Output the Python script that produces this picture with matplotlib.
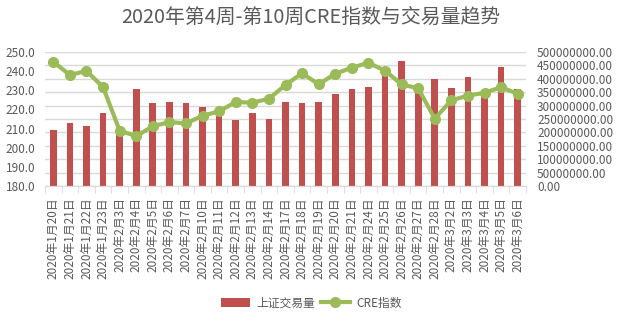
import matplotlib
matplotlib.use("Agg")
import matplotlib.pyplot as plt
from matplotlib.ticker import FormatStrFormatter, FixedLocator, MultipleLocator
from matplotlib.lines import Line2D
from matplotlib.patches import Patch
import numpy as np

plt.rcParams['font.family'] = ['Noto Sans CJK SC', 'DejaVu Sans']

dates = ["2020年1月20日", "2020年1月21日", "2020年1月22日", "2020年1月23日",
         "2020年2月3日", "2020年2月4日", "2020年2月5日", "2020年2月6日", "2020年2月7日",
         "2020年2月10日", "2020年2月11日", "2020年2月12日", "2020年2月13日", "2020年2月14日",
         "2020年2月17日", "2020年2月18日", "2020年2月19日", "2020年2月20日", "2020年2月21日",
         "2020年2月24日", "2020年2月25日", "2020年2月26日", "2020年2月27日", "2020年2月28日",
         "2020年3月2日", "2020年3月3日", "2020年3月4日", "2020年3月5日", "2020年3月6日"]

volume = [209e6, 235e6, 224e6, 272e6, 215e6, 362e6, 310e6, 313e6, 310e6, 295e6,
          275e6, 246e6, 272e6, 250e6, 313e6, 310e6, 313e6, 343e6, 362e6, 369e6,
          425e6, 466e6, 348e6, 399e6, 366e6, 407e6, 346e6, 444e6, 362e6]

cre = [244.9, 238.0, 240.1, 231.7, 208.9, 206.1, 211.2, 213.4, 212.7, 216.7,
       219.0, 223.9, 223.5, 225.6, 232.8, 238.9, 233.1, 238.7, 241.8, 244.4,
       240.2, 233.1, 231.0, 215.2, 224.8, 227.2, 228.7, 231.6, 228.2]

title = "2020年第4周-第10周CRE指数与交易量趋势"
bar_label = "上证交易量"
line_label = "CRE指数"

bar_color = '#c0504d'
line_color = '#9bbb59'
text_color = '#595959'
grid_color = '#d9d9d9'

fig = plt.figure(figsize=(6.23, 3.24), dpi=100)
ax = fig.add_axes([45/623, 1-186/324, (526-45)/623, (186-52)/324])
x = np.arange(len(dates))

ax.bar(x, volume, width=0.4, color=bar_color, zorder=2)
ax.set_ylim(0, 500e6)
ax.set_xlim(-0.5, len(dates)-0.5)
ax.yaxis.set_major_locator(MultipleLocator(50e6))
ax.yaxis.set_major_formatter(FormatStrFormatter('%.2f'))
ax.grid(axis='y', color=grid_color, linewidth=1, zorder=0)
ax.set_axisbelow(True)

ax2 = ax.twinx()
ax2.plot(x, cre, color=line_color, linewidth=3, marker='o', markersize=7,
         zorder=3)
ax2.set_ylim(180, 250)
ax2.yaxis.set_major_locator(MultipleLocator(10))
ax2.yaxis.set_major_formatter(FormatStrFormatter('%.1f'))

ax.yaxis.tick_right()
ax2.yaxis.tick_left()
ax.tick_params(axis='y', length=0, labelsize=8.5, labelcolor=text_color, pad=8)
ax2.tick_params(axis='y', length=0, labelsize=8.5, labelcolor=text_color, pad=7)

for a in (ax, ax2):
    for s in ['top', 'left', 'right']:
        a.spines[s].set_visible(False)
    a.spines['bottom'].set_color(grid_color)

ax.set_xticks(x)
ax.set_xticklabels(dates, rotation=90, fontsize=8.5, color=text_color)
ax.xaxis.set_minor_locator(FixedLocator(np.arange(-0.5, len(dates), 1)))
ax.tick_params(axis='x', which='major', length=0, pad=8)
ax.tick_params(axis='x', which='minor', length=5, color=grid_color)
ax2.tick_params(axis='x', length=0)

fig.suptitle(title, x=311/623, y=1-18/324, va='center', fontsize=14.3, color=text_color)

handles = [Patch(facecolor=bar_color, edgecolor='none'),
           Line2D([0], [0], color=line_color, linewidth=3, marker='o', markersize=7)]
fig.legend(handles, [bar_label, line_label], loc='center', bbox_to_anchor=(311/623, 1-303/324),
           ncol=2, frameon=False, fontsize=8.5, labelcolor=text_color,
           handlelength=2.5, columnspacing=0.5, handletextpad=0.5)

fig.savefig('out.png', dpi=100)
